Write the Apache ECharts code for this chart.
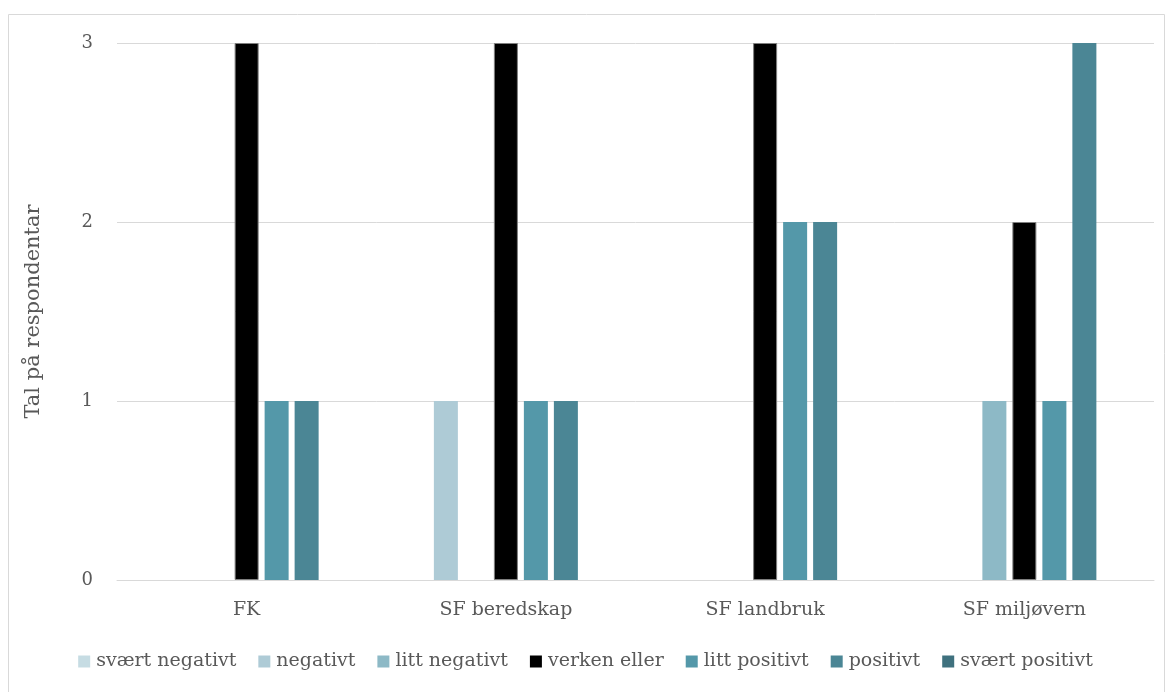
<!DOCTYPE html>
<html><head><meta charset="utf-8">
<script src="https://cdn.jsdelivr.net/npm/echarts@6/dist/echarts.min.js"></script>
<style>html,body{margin:0;padding:0;background:#fff}#c{width:1171px;height:692px}</style>
</head><body><div id="c"></div>
<script>
const categories = ['FK', 'SF beredskap', 'SF landbruk', 'SF miljøvern'];
const seriesNames = ['svært negativt', 'negativt', 'litt negativt', 'verken eller', 'litt positivt', 'positivt', 'svært positivt'];
const svaertNegativt = [0, 0, 0, 0];
const negativt = [0, 1, 0, 0];
const littNegativt = [0, 0, 0, 1];
const verkenEller = [3, 3, 3, 2];
const littPositivt = [1, 1, 2, 1];
const positivt = [1, 1, 2, 3];
const svaertPositivt = [0, 0, 0, 0];
const yTicks = [0, 1, 2, 3];
const yTitle = 'Tal på respondentar';

const values = [svaertNegativt, negativt, littNegativt, verkenEller, littPositivt, positivt, svaertPositivt];
const colors = ['#c6dce3', '#aecbd6', '#8db9c6', '#000000', '#5498a9', '#4b8695', '#3f717e'];
const font = '"DejaVu Serif", serif';
const txt = '#595959';

const chart = echarts.init(document.getElementById('c'));
chart.setOption({
  animation: false,
  textStyle: { fontFamily: font },
  graphic: [{
    type: 'rect', shape: { x: 8.5, y: 14.5, width: 1156, height: 690 },
    style: { fill: 'none', stroke: '#d9d9d9', lineWidth: 1 }, silent: true
  }],
  grid: { left: 117, right: 17, top: 43, bottom: 112, containLabel: false },
  legend: {
    bottom: 16, left: 'center',
    itemWidth: 12, itemHeight: 12, itemGap: 22,
    icon: 'rect',
    itemStyle: { borderWidth: 0 },
    textStyle: { fontFamily: font, fontSize: 19, color: txt, padding: [0, 0, 0, 1] },
    data: seriesNames
  },
  xAxis: {
    type: 'category', data: categories,
    axisLine: { lineStyle: { color: '#d9d9d9', width: 1 } },
    axisTick: { show: false },
    axisLabel: { fontFamily: font, fontSize: 19, color: txt, margin: 21 }
  },
  yAxis: {
    type: 'value', min: yTicks[0], max: yTicks[yTicks.length - 1], interval: 1,
    name: yTitle, nameLocation: 'middle', nameGap: 73, nameRotate: 90,
    nameTextStyle: { fontFamily: font, fontSize: 21, color: txt },
    axisLine: { show: false }, axisTick: { show: false },
    axisLabel: { fontFamily: font, fontSize: 18, color: txt, margin: 24 },
    splitLine: { lineStyle: { color: '#d9d9d9', width: 1 } }
  },
  series: seriesNames.map((n, i) => ({
    name: n, type: 'bar', data: values[i],
    barWidth: 24, barGap: '25%',
    itemStyle: { color: colors[i], borderColor: i === 3 ? '#7f7f7f' : colors[i], borderWidth: i === 3 ? 1 : 0 }
  }))
});
</script></body></html>
